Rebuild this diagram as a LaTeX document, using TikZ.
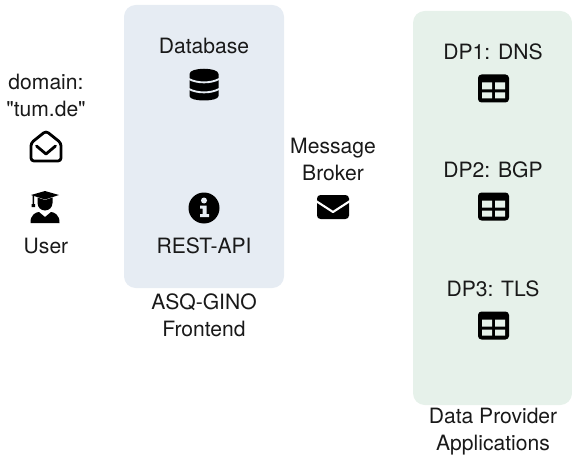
\documentclass[tikz,border=0pt]{standalone}
\usepackage{fontspec}
\setmainfont{TeX Gyre Heros}[Ligatures=TeXOff]
\usepackage{xcolor}
\definecolor{frontendblue}{HTML}{E6ECF3}
\definecolor{providergreen}{HTML}{E6F1EA}
\tikzset{
    label/.style={font=\fontsize{18}{23}\selectfont, text=black!90, inner sep=0pt, align=center},
    panel/.style={rounded corners=10},
    tableicon/.pic={
        \fill[black, rounded corners=3] (-15.5,-14) rectangle (15.5,14);
        \fill[providergreen] (-11.5,-6) rectangle (-1.5,1) (1.5,-6) rectangle (11.5,1)
            (-11.5,4) rectangle (-1.5,10) (1.5,4) rectangle (11.5,10);
    },
    dbicon/.pic={
        \fill[black] (-14.5,-11) .. controls (-14.5,-18) and (14.5,-18) .. (14.5,-11)
            -- (14.5,11) .. controls (14.5,17) and (-14.5,17) .. (-14.5,11) -- cycle;
        \draw[frontendblue, line width=1.6] (-15,-6) .. controls (-7,-1.5) and (7,-1.5) .. (15,-6);
        \draw[frontendblue, line width=1.6] (-15,4) .. controls (-7,8.5) and (7,8.5) .. (15,4);
    },
    infoicon/.pic={
        \fill[black] (0,0) circle[radius=15.5];
        \fill[frontendblue] (0,-7.5) circle[radius=3];
        \fill[frontendblue] (-4,-2.5) rectangle (2.5,0.5) (-1.5,-2.5) rectangle (2.5,7)
            (-4,6) rectangle (5,9);
    },
    mailicon/.pic={
        \fill[black, rounded corners=3] (-16,-12) rectangle (16,12);
        \draw[white, line width=1.8, line join=round] (-17,-6) -- (0,5) -- (17,-6);
    },
    openmailicon/.pic={
        \draw[black, line width=2.4, line join=round, rounded corners=2.5]
            (-15,-4) -- (0,-16) -- (15,-4) -- (15,14) -- (-15,14) -- cycle;
        \draw[black, line width=2.4, line cap=round, line join=round] (-9.5,-1) -- (0,7) -- (9.5,-1);
    },
    usericon/.pic={
        % mortarboard, head and shoulders
        \fill[black] (-14,-12) -- (0,-16) -- (14,-12) -- (0,-7.5) -- cycle;
        \fill[black] (-7.5,-9.5) -- (0,-7) -- (7.5,-9.5) -- (7.5,-4) arc[start angle=0, end angle=180, radius=7.5] -- cycle;
        \fill[black] (-12.5,-12) rectangle (-11,-3) (-13.5,-3) rectangle (-10,0);
        \fill[black] (-14.5,16) .. controls (-15,8) and (-9,5) .. (-6,5)
            -- (0,10) -- (6,5) .. controls (9,5) and (15,8) .. (14.5,16) -- cycle;
    }
}
\begin{document}
\begin{tikzpicture}[x=0.03cm,y=-0.03cm]
    \useasboundingbox (0,0) rectangle (572,455);
    \fill[panel, frontendblue] (124,5) rectangle (284,288);
    \fill[panel, providergreen] (413,11) rectangle (572,405);

    % left column
    \node(domain)[label] at (46,95) {domain:\\"tum.de"};
    \pic at (46,147) {openmailicon};
    \pic at (45,207) {usericon};
    \node(user)[label] at (46,246) {User};

    % frontend
    \node(database)[label] at (204,46) {Database};
    \pic at (204,85) {dbicon};
    \pic at (204,208) {infoicon};
    \node(restapi)[label] at (204,246) {REST-API};
    \node(frontend)[label] at (204,315) {ASQ-GINO\\Frontend};

    % broker
    \node(broker)[label] at (333,159) {Message\\Broker};
    \pic at (333,207) {mailicon};

    % data providers
    \foreach \x/\y/\z in {dns/52/DP1: DNS,bgp/170/DP2: BGP,tls/289/DP3: TLS}{
        \node(\x)[label] at (493,\y) {\z};
        \pic at (493.5,\y+36.5) {tableicon};
    }
    \node(providers)[label] at (493,431.5) {Data Provider\\Applications};
\end{tikzpicture}
\end{document}
